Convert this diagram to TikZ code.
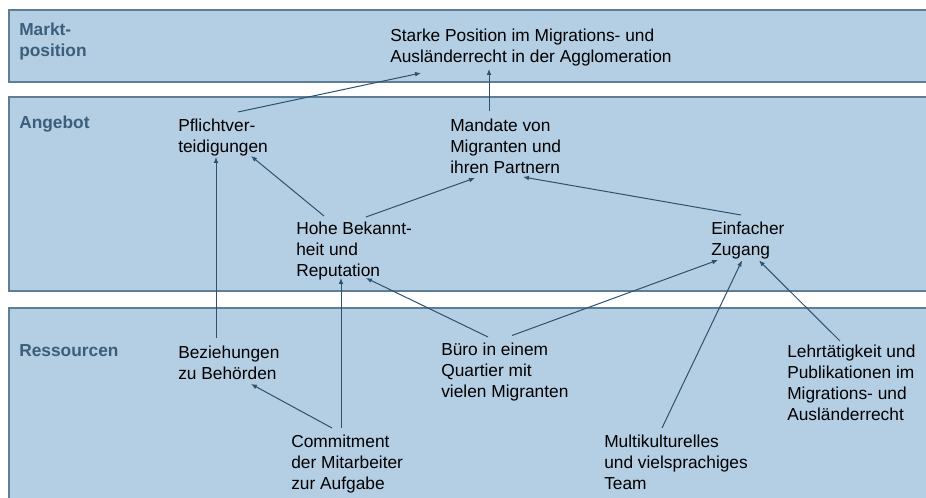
\documentclass[tikz,border=0pt]{standalone}
\usepackage{fontspec}
\setmainfont{Liberation Sans}
\definecolor{bandblue}{RGB}{180, 206, 227}
\definecolor{bandline}{RGB}{94, 126, 150}
\definecolor{levelblue}{RGB}{59, 94, 124}
\definecolor{linkblue}{RGB}{44, 82, 112}
\usetikzlibrary{
    arrows.meta,
    positioning,
    calc
}

\begin{document}
\begin{tikzpicture}[x=0.75pt, y=-0.75pt,
        band/.style={fill=bandblue, draw=bandline, line width=1pt},
        level/.style={anchor=north west, inner sep=0pt, align=left, text=levelblue,
            font=\fontsize{13}{15.75}\selectfont\bfseries},
        item/.style={anchor=north west, inner sep=0pt, align=left,
            font=\fontsize{13}{15.75}\selectfont},
        link/.style={draw=linkblue, line width=0.75pt, -{Latex[length=4.5pt,width=3.6pt]}}]
            \clip (0,0) rectangle (926,498);

            % Bands
            \draw[band] (9,10) rectangle (940,82);
            \draw[band] (9,97) rectangle (940,291);
            \draw[band] (9,308) rectangle (940,510);

            % Levels
            \node[level] (markt) at (19,22.6) {Markt-\\position};
            \node[level] (angebot) at (19,116) {Angebot};
            \node[level] (ressourcen) at (19,344.3) {Ressourcen};

            % Market position
            \node[item] (pos) at (390,29) {Starke Position im Migrations- und\\Ausländerrecht in der Agglomeration};

            % Offer
            \node[item] (pflicht) at (178,119) {Pflichtver-\\teidigungen};
            \node[item] (mandate) at (450,119) {Mandate von\\Migranten und\\ihren Partnern};
            \node[item] (hohe) at (296,222) {Hohe Bekannt-\\heit und\\Reputation};
            \node[item] (zugang) at (711,222) {Einfacher\\Zugang};

            % Resources
            \node[item] (bez) at (178,345.5) {Beziehungen\\zu Behörden};
            \node[item] (buero) at (441,343) {Büro in einem\\Quartier mit\\vielen Migranten};
            \node[item] (commit) at (291,434.5) {Commitment\\der Mitarbeiter\\zur Aufgabe};
            \node[item] (team) at (604,434.5) {Multikulturelles\\und vielsprachiges\\Team};
            \node[item] (lehre) at (787,344.5) {Lehrtätigkeit und\\Publikationen im\\Migrations- und\\Ausländerrecht};

            % Links
            \draw[link] ($(pflicht.north west)+(60,-7)$) -- ($(pos.north west)+(31,44)$);
            \draw[link] ($(mandate.north west)+(39,-8)$) -- ($(pos.north west)+(99,40)$);
            \draw[link] ($(hohe.north west)+(28,-6)$) -- ($(pflicht.north west)+(73,37)$);
            \draw[link] ($(hohe.north west)+(70,-5)$) -- ($(mandate.north west)+(25,59)$);
            \draw[link] ($(zugang.north west)+(30,-7)$) -- ($(mandate.north west)+(73,58)$);
            \draw[link] ($(bez.north west)+(38,-7.5)$) -- ($(pflicht.north west)+(38,38)$);
            \draw[link] ($(commit.north west)+(41,-6.5)$) -- ($(bez.north west)+(73,38.5)$);
            \draw[link] ($(commit.north west)+(50,-6.5)$) -- ($(hohe.north west)+(45,56)$);
            \draw[link] ($(buero.north west)+(47,-6)$) -- ($(hohe.north west)+(70,56)$);
            \draw[link] ($(buero.north west)+(71,-7.5)$) -- ($(zugang.north west)+(7,38)$);
            \draw[link] ($(team.north west)+(58,-6.5)$) -- ($(zugang.north west)+(31,38.5)$);
            \draw[link] ($(lehre.north west)+(53,-3.5)$) -- ($(zugang.north west)+(48,38.5)$);
        \end{tikzpicture}
\end{document}
